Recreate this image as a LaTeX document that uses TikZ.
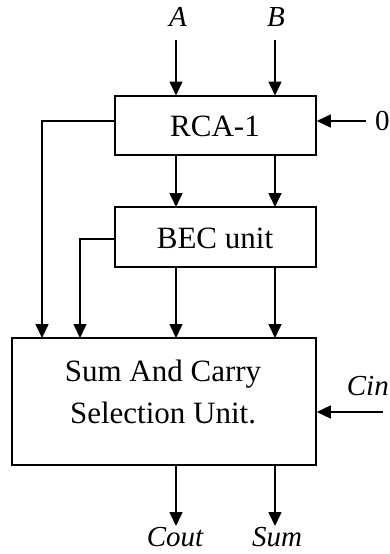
\documentclass[tikz,border=0pt]{standalone}
\usepackage{fontspec}
\setmainfont{Liberation Serif}
\usetikzlibrary{arrows.meta}
\begin{document}
\begin{tikzpicture}[x=1pt,y=-1pt,
  blk/.style={draw, line width=1.6pt, inner sep=0pt},
  wire/.style={line width=1.6pt},
  arr/.style={wire, -{Triangle[width=13pt,length=14pt]}},
  lbl/.style={font=\fontsize{29}{34}\selectfont\itshape, inner sep=0pt},
  btxt/.style={font=\fontsize{31}{42}\selectfont, inner sep=0pt}]
\useasboundingbox (0,0) rectangle (390,554);
% blocks
\node[blk, minimum width=201pt, minimum height=59pt] (rca) at (215.5,125.5) {};
\node[btxt] at (215,126) {RCA-1};
\node[blk, minimum width=201pt, minimum height=60pt] (bec) at (215.5,237) {};
\node[btxt] at (215,238) {BEC unit};
\node[blk, minimum width=304pt, minimum height=127pt] (scu) at (164,401.5) {};
\node[btxt, align=center] at (163,392) {Sum And Carry\\Selection Unit.};
% labels
\node[lbl] (a) at (178,17) {A};
\node[lbl] (b) at (276,17) {B};
\node[lbl, anchor=west] (zero) at (375,121) {\upshape 0};
\node[lbl, anchor=east] (cin) at (389,386) {Cin};
\node[lbl] (cout) at (175,537) {Cout};
\node[lbl] (sum) at (277,537) {Sum};
% coordinates
\coordinate (ta) at (176,40);
\coordinate (tb) at (275,40);
\coordinate (tz) at (366,121);
\coordinate (tc) at (383,412);
% inputs
\draw[arr] (ta) -- (176,95.5);
\draw[arr] (tb) -- (275,95.5);
\draw[arr] (tz) -- (rca.east |- tz);
\draw[arr] (tc) -- (scu.east |- tc);
% RCA to BEC
\draw[arr] (176,156) -- (176,207);
\draw[arr] (275,156) -- (275,207);
% BEC to SCU
\draw[arr] (176,267) -- (176,338);
\draw[arr] (275,267) -- (275,338);
% side wires
\draw[arr] (rca.west |- 0,121) -- (42,121) -- (42,338);
\draw[arr] (bec.west |- 0,239) -- (80,239) -- (80,338);
% outputs
\draw[arr] (176,465) -- (176,526);
\draw[arr] (275,465) -- (275,526);
\end{tikzpicture}
\end{document}
